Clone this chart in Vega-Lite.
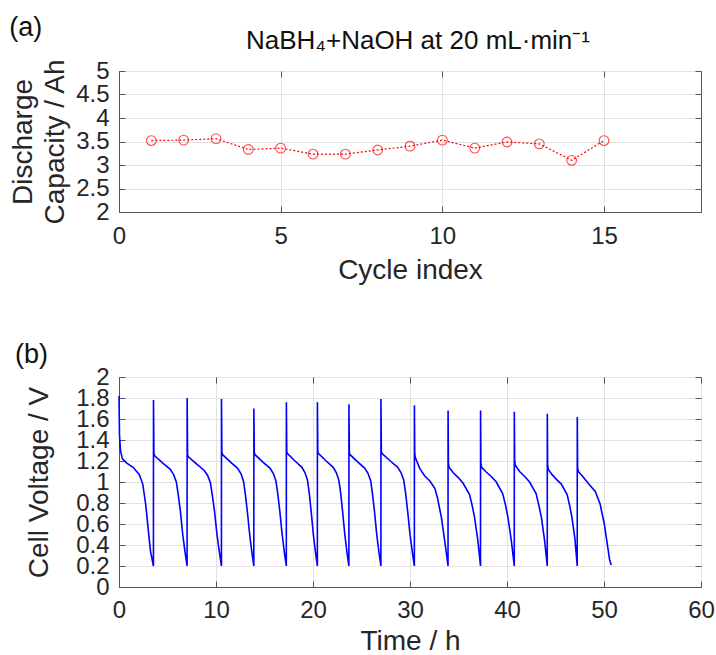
{
  "$schema": "https://vega.github.io/schema/vega-lite/v6.json",
  "padding": {"left": 9, "top": 13, "right": 10, "bottom": 0},
  "spacing": 55,
  "background": "white",
  "datasets": {
    "cap": [
      {"cycle": 1, "cap": 3.52}, {"cycle": 2, "cap": 3.53}, {"cycle": 3, "cap": 3.56},
      {"cycle": 4, "cap": 3.33}, {"cycle": 5, "cap": 3.36}, {"cycle": 6, "cap": 3.23},
      {"cycle": 7, "cap": 3.23}, {"cycle": 8, "cap": 3.32}, {"cycle": 9, "cap": 3.40},
      {"cycle": 10, "cap": 3.53}, {"cycle": 11, "cap": 3.36}, {"cycle": 12, "cap": 3.49},
      {"cycle": 13, "cap": 3.45}, {"cycle": 14, "cap": 3.10}, {"cycle": 15, "cap": 3.52}
    ],
    "volt": [
      {"t": 0, "v": 1.82}, {"t": 0.05, "v": 1.45}, {"t": 0.15, "v": 1.3}, {"t": 0.35, "v": 1.22}, {"t": 0.8, "v": 1.18}, {"t": 1.45, "v": 1.14}, {"t": 2.1, "v": 1.07}, {"t": 2.45, "v": 0.98}, {"t": 2.75, "v": 0.79}, {"t": 3.0, "v": 0.56}, {"t": 3.25, "v": 0.34}, {"t": 3.55, "v": 0.2},
      {"t": 3.555, "v": 1.78}, {"t": 3.6, "v": 1.27}, {"t": 3.68, "v": 1.25}, {"t": 4.52, "v": 1.18}, {"t": 5.29, "v": 1.12}, {"t": 5.63, "v": 1.07}, {"t": 5.91, "v": 1.0}, {"t": 6.12, "v": 0.87}, {"t": 6.33, "v": 0.72}, {"t": 6.57, "v": 0.5}, {"t": 6.81, "v": 0.33}, {"t": 7.02, "v": 0.2},
      {"t": 7.025, "v": 1.8}, {"t": 7.07, "v": 1.26}, {"t": 7.15, "v": 1.24}, {"t": 8.015, "v": 1.17}, {"t": 8.79, "v": 1.11}, {"t": 9.15, "v": 1.06}, {"t": 9.43, "v": 0.99}, {"t": 9.64, "v": 0.86}, {"t": 9.85, "v": 0.72}, {"t": 10.1, "v": 0.5}, {"t": 10.35, "v": 0.33}, {"t": 10.56, "v": 0.2},
      {"t": 10.565, "v": 1.79}, {"t": 10.605, "v": 1.28}, {"t": 10.68, "v": 1.26}, {"t": 11.5, "v": 1.19}, {"t": 12.23, "v": 1.13}, {"t": 12.57, "v": 1.08}, {"t": 12.83, "v": 1.01}, {"t": 13.03, "v": 0.88}, {"t": 13.23, "v": 0.72}, {"t": 13.47, "v": 0.5}, {"t": 13.7, "v": 0.33}, {"t": 13.9, "v": 0.2},
      {"t": 13.905, "v": 1.7}, {"t": 13.945, "v": 1.28}, {"t": 14.02, "v": 1.26}, {"t": 14.84, "v": 1.19}, {"t": 15.58, "v": 1.13}, {"t": 15.91, "v": 1.08}, {"t": 16.18, "v": 1.01}, {"t": 16.38, "v": 0.88}, {"t": 16.58, "v": 0.72}, {"t": 16.82, "v": 0.5}, {"t": 17.05, "v": 0.33}, {"t": 17.25, "v": 0.2},
      {"t": 17.255, "v": 1.76}, {"t": 17.295, "v": 1.29}, {"t": 17.37, "v": 1.27}, {"t": 18.15, "v": 1.2}, {"t": 18.85, "v": 1.14}, {"t": 19.17, "v": 1.09}, {"t": 19.43, "v": 1.02}, {"t": 19.62, "v": 0.89}, {"t": 19.81, "v": 0.72}, {"t": 20.035, "v": 0.5}, {"t": 20.26, "v": 0.33}, {"t": 20.45, "v": 0.2},
      {"t": 20.455, "v": 1.76}, {"t": 20.495, "v": 1.29}, {"t": 20.57, "v": 1.27}, {"t": 21.36, "v": 1.2}, {"t": 22.08, "v": 1.14}, {"t": 22.4, "v": 1.09}, {"t": 22.66, "v": 1.02}, {"t": 22.86, "v": 0.89}, {"t": 23.05, "v": 0.72}, {"t": 23.28, "v": 0.5}, {"t": 23.5, "v": 0.33}, {"t": 23.7, "v": 0.2},
      {"t": 23.705, "v": 1.74}, {"t": 23.745, "v": 1.28}, {"t": 23.82, "v": 1.26}, {"t": 24.63, "v": 1.19}, {"t": 25.35, "v": 1.13}, {"t": 25.68, "v": 1.08}, {"t": 25.95, "v": 1.01}, {"t": 26.14, "v": 0.88}, {"t": 26.34, "v": 0.72}, {"t": 26.57, "v": 0.5}, {"t": 26.8, "v": 0.33}, {"t": 27.0, "v": 0.2},
      {"t": 27.005, "v": 1.79}, {"t": 27.045, "v": 1.29}, {"t": 27.125, "v": 1.27}, {"t": 27.97, "v": 1.2}, {"t": 28.73, "v": 1.14}, {"t": 29.07, "v": 1.09}, {"t": 29.35, "v": 1.02}, {"t": 29.555, "v": 0.89}, {"t": 29.76, "v": 0.72}, {"t": 30.0, "v": 0.5}, {"t": 30.245, "v": 0.33}, {"t": 30.45, "v": 0.2},
      {"t": 30.455, "v": 1.73}, {"t": 30.49, "v": 1.27}, {"t": 30.56, "v": 1.23}, {"t": 31.0, "v": 1.13}, {"t": 31.5, "v": 1.06}, {"t": 32.05, "v": 1.01}, {"t": 32.56, "v": 0.94}, {"t": 32.83, "v": 0.85}, {"t": 33.24, "v": 0.66}, {"t": 33.58, "v": 0.44}, {"t": 33.92, "v": 0.2},
      {"t": 33.925, "v": 1.68}, {"t": 33.96, "v": 1.18}, {"t": 34.03, "v": 1.14}, {"t": 34.44, "v": 1.09}, {"t": 35.0, "v": 1.04}, {"t": 35.46, "v": 0.99}, {"t": 36.14, "v": 0.88}, {"t": 36.4, "v": 0.78}, {"t": 36.66, "v": 0.66}, {"t": 37.0, "v": 0.44}, {"t": 37.27, "v": 0.2},
      {"t": 37.275, "v": 1.68}, {"t": 37.31, "v": 1.18}, {"t": 37.38, "v": 1.14}, {"t": 37.8, "v": 1.1}, {"t": 38.4, "v": 1.05}, {"t": 38.9, "v": 1.0}, {"t": 39.55, "v": 0.89}, {"t": 39.85, "v": 0.78}, {"t": 40.1, "v": 0.66}, {"t": 40.45, "v": 0.44}, {"t": 40.75, "v": 0.2},
      {"t": 40.755, "v": 1.67}, {"t": 40.79, "v": 1.2}, {"t": 40.86, "v": 1.16}, {"t": 41.3, "v": 1.1}, {"t": 41.85, "v": 1.05}, {"t": 42.33, "v": 1.0}, {"t": 43.0, "v": 0.89}, {"t": 43.28, "v": 0.78}, {"t": 43.55, "v": 0.66}, {"t": 43.88, "v": 0.44}, {"t": 44.15, "v": 0.2},
      {"t": 44.155, "v": 1.65}, {"t": 44.19, "v": 1.16}, {"t": 44.26, "v": 1.12}, {"t": 44.65, "v": 1.07}, {"t": 45.15, "v": 1.02}, {"t": 45.6, "v": 0.98}, {"t": 46.2, "v": 0.88}, {"t": 46.45, "v": 0.78}, {"t": 46.7, "v": 0.66}, {"t": 47.0, "v": 0.46}, {"t": 47.24, "v": 0.2},
      {"t": 47.245, "v": 1.62}, {"t": 47.28, "v": 1.14}, {"t": 47.35, "v": 1.1}, {"t": 47.75, "v": 1.06}, {"t": 48.43, "v": 0.98}, {"t": 49.1, "v": 0.91}, {"t": 49.6, "v": 0.79}, {"t": 50.03, "v": 0.6}, {"t": 50.4, "v": 0.37}, {"t": 50.58, "v": 0.26}, {"t": 50.75, "v": 0.21}
    ]
  },
  "config": {
    "font": "Liberation Sans",
    "view": {"stroke": "#555555", "strokeWidth": 1},
    "axis": {
      "labelFont": "Liberation Sans",
      "labelFontSize": 24,
      "labelColor": "#262626",
      "titleFont": "Liberation Sans",
      "titleFontSize": 28,
      "titleFontWeight": "normal",
      "titleColor": "#262626",
      "domainColor": "#555555",
      "tickColor": "#555555",
      "gridColor": "#e2e2e2",
      "tickSize": -6,
      "labelOverlap": false,
      "labelFlush": false,
      "labelBound": false
    },
    "axisX": {"labelPadding": 18},
    "axisY": {"labelPadding": 16},
    "title": {"font": "Liberation Sans", "fontWeight": "normal", "color": "#111111"}
  },
  "vconcat": [
    {
      "title": {"text": "(a)", "anchor": "start", "frame": "bounds", "fontSize": 27, "offset": -14},
      "vconcat": [
        {
          "width": 582,
          "height": 141,
          "title": {"text": "NaBH₄+NaOH at 20 mL·min⁻¹", "fontSize": 26, "offset": 4, "anchor": "middle", "dx": 8},
          "data": {"name": "cap"},
          "layer": [
            {
              "mark": {"type": "line", "color": "#ff0000", "strokeWidth": 1.2, "strokeDash": [2, 2]},
              "encoding": {
                "x": {"field": "cycle", "type": "quantitative", "scale": {"domain": [0, 18]},
                      "axis": {"values": [0, 5, 10, 15], "title": "Cycle index", "titlePadding": 8}},
                "y": {"field": "cap", "type": "quantitative", "scale": {"domain": [2, 5]},
                      "axis": {"values": [2, 2.5, 3, 3.5, 4, 4.5, 5], "format": "~g", "title": ["Discharge", "Capacity / Ah"], "titleLineHeight": 32, "titlePadding": 6}}
              }
            },
            {
              "mark": {"type": "point", "shape": "circle", "filled": false, "color": "#ff0000", "size": 95, "strokeWidth": 1.1},
              "encoding": {
                "x": {"field": "cycle", "type": "quantitative", "axis": null},
                "y": {"field": "cap", "type": "quantitative", "axis": null}
              }
            },
            {
              "mark": {"type": "point", "opacity": 0},
              "encoding": {
                "x": {"field": "cycle", "type": "quantitative",
                      "axis": {"orient": "top", "values": [0, 5, 10, 15], "labels": false, "title": null, "grid": false, "domain": false}},
                "y": {"field": "cap", "type": "quantitative",
                      "axis": {"orient": "right", "values": [2, 2.5, 3, 3.5, 4, 4.5, 5], "labels": false, "title": null, "grid": false, "domain": false}}
              }
            }
          ],
          "resolve": {"axis": {"x": "independent", "y": "independent"}}
        }
      ]
    },
    {
      "width": 582,
      "height": 210,
      "title": {"text": "(b)", "anchor": "start", "frame": "group", "dx": -104, "fontSize": 27, "offset": -4},
      "data": {"name": "volt"},
      "layer": [
        {
          "mark": {"type": "line", "color": "#0000ff", "strokeWidth": 1.6},
          "encoding": {
            "x": {"field": "t", "type": "quantitative", "scale": {"domain": [0, 60]},
                  "axis": {"values": [0, 10, 20, 30, 40, 50, 60], "title": "Time / h", "titlePadding": 5, "labelPadding": 17}},
            "y": {"field": "v", "type": "quantitative", "scale": {"domain": [0, 2]},
                  "axis": {"values": [0, 0.2, 0.4, 0.6, 0.8, 1, 1.2, 1.4, 1.6, 1.8, 2], "format": "~g", "title": "Cell Voltage / V", "titlePadding": 22}}
          }
        },
        {
          "mark": {"type": "point", "opacity": 0},
          "encoding": {
            "x": {"field": "t", "type": "quantitative",
                  "axis": {"orient": "top", "values": [0, 10, 20, 30, 40, 50, 60], "labels": false, "title": null, "grid": false, "domain": false}},
            "y": {"field": "v", "type": "quantitative",
                  "axis": {"orient": "right", "values": [0, 0.2, 0.4, 0.6, 0.8, 1, 1.2, 1.4, 1.6, 1.8, 2], "labels": false, "title": null, "grid": false, "domain": false}}
          }
        }
      ],
      "resolve": {"axis": {"x": "independent", "y": "independent"}}
    }
  ]
}
